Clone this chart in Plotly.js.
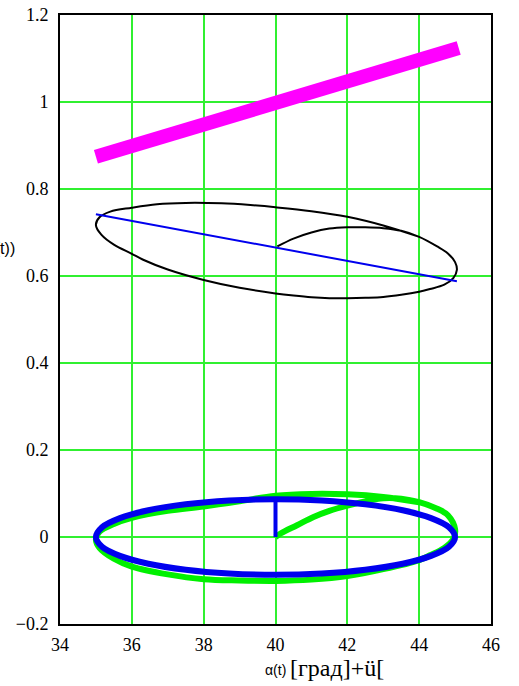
<!DOCTYPE html>
<html>
<head>
<meta charset="utf-8">
<script src="https://cdn.plot.ly/plotly-3.0.1.min.js"></script>
<style>html,body{margin:0;padding:0;background:#fff;}#chart{width:519px;height:686px;}</style>
</head>
<body>
<div id="chart"></div>
<script>
// Magenta straight band
const magentaX = [35, 45.1];
const magentaY = [0.874, 1.124];

// Black trajectory: spiral arc from centre, then the closed loop
const blackX = [40.05, 40.5, 41.0, 41.5, 42.0, 42.5, 43.0, 43.5, 44.0, 44.5, 44.8, 45.0, 45.05, 44.95, 44.7, 44.3, 44.0, 43.5, 43.0, 42.5, 42.0, 41.5, 41.0, 40.5, 40.0, 39.0, 38.0, 37.0, 36.3, 36.0, 35.5, 35.15, 35.0, 35.1, 35.4, 36.0, 36.7, 37.5, 38.5, 39.3, 40.0, 41.0, 42.0, 43.0, 44.0];
const blackY = [0.668, 0.686, 0.700, 0.709, 0.712, 0.712, 0.710, 0.704, 0.690, 0.668, 0.652, 0.632, 0.614, 0.595, 0.580, 0.570, 0.564, 0.557, 0.552, 0.550, 0.549, 0.549, 0.551, 0.555, 0.560, 0.573, 0.591, 0.615, 0.638, 0.651, 0.672, 0.695, 0.717, 0.735, 0.748, 0.757, 0.765, 0.768, 0.767, 0.763, 0.758, 0.749, 0.736, 0.716, 0.690];

// Thin blue straight line through the black loop
const blueLineX = [35, 45.05];
const blueLineY = [0.742, 0.588];

// Green trajectory near y = 0
const greenX = [40.0, 40.14, 40.6, 41.06, 41.5, 42.0, 42.5, 43.0, 43.5, 44.0, 44.5, 44.8, 45.0, 44.95, 44.7, 44.3, 44.0, 43.0, 42.0, 41.0, 40.0, 39.0, 38.0, 37.0, 36.0, 35.5, 35.1, 35.0, 35.1, 35.5, 36.0, 37.0, 38.0, 39.0, 40.0, 41.0, 42.0, 43.0, 44.0];
const greenY = [0.0, 0.008, 0.027, 0.046, 0.060, 0.072, 0.082, 0.089, 0.088, 0.080, 0.065, 0.050, 0.018, -0.005, -0.025, -0.042, -0.053, -0.074, -0.090, -0.098, -0.101, -0.100, -0.097, -0.086, -0.068, -0.050, -0.025, -0.005, 0.012, 0.030, 0.044, 0.060, 0.070, 0.082, 0.095, 0.099, 0.098, 0.092, 0.080];

// Blue spoke and blue loop near y = 0
const blueSpokeX = [40, 40];
const blueSpokeY = [0, 0.087];
const blueLoopX = [40.0, 41.29, 42.5, 43.54, 44.33, 44.83, 45.0, 44.83, 44.33, 43.54, 42.5, 41.29, 40.0, 38.71, 37.5, 36.46, 35.67, 35.17, 35.0, 35.17, 35.67, 36.46, 37.5, 38.71, 40.0];
const blueLoopY = [0.087, 0.084, 0.0753, 0.0615, 0.0435, 0.0225, 0.0, -0.0225, -0.0435, -0.0615, -0.0753, -0.084, -0.087, -0.084, -0.0753, -0.0615, -0.0435, -0.0225, 0.0, 0.0225, 0.0435, 0.0615, 0.0753, 0.084, 0.087];

const xTicks = [34, 36, 38, 40, 42, 44, 46];
const yTicks = [-0.2, 0, 0.2, 0.4, 0.6, 0.8, 1, 1.2];
const yTickText = ['\u22120.2', '0', '0.2', '0.4', '0.6', '0.8', '1', '1.2'];

const SERIF = 'Liberation Serif, Times New Roman, serif';
const SANS = 'Liberation Sans, Arial, sans-serif';
const GRID = '#30f030';

const traces = [
  {x: greenX, y: greenY, mode: 'lines', line: {color: '#00f000', width: 6, shape: 'spline', smoothing: 1}, hoverinfo: 'skip'},
  {x: blueLoopX, y: blueLoopY, mode: 'lines', line: {color: '#0000ee', width: 6, shape: 'spline', smoothing: 1}, hoverinfo: 'skip'},
  {x: blueSpokeX, y: blueSpokeY, mode: 'lines', line: {color: '#0000ee', width: 4}, hoverinfo: 'skip'},
  {x: blackX, y: blackY, mode: 'lines', line: {color: '#000000', width: 2, shape: 'spline', smoothing: 1}, hoverinfo: 'skip'},
  {x: blueLineX, y: blueLineY, mode: 'lines', line: {color: '#0000ee', width: 2}, hoverinfo: 'skip'},
  {x: magentaX, y: magentaY, mode: 'lines', line: {color: '#ff00ff', width: 14}, hoverinfo: 'skip'}
];

const layout = {
  width: 519, height: 686,
  margin: {l: 60, r: 28, t: 15, b: 62},
  paper_bgcolor: '#fff', plot_bgcolor: '#fff',
  showlegend: false,
  font: {family: SERIF, size: 18, color: '#000'},
  xaxis: {
    range: [34, 46], tickvals: xTicks, ticktext: xTicks.map(String),
    showline: true, linecolor: '#000', linewidth: 2, mirror: true,
    showgrid: true, gridcolor: GRID, gridwidth: 2, zeroline: false, ticks: '',
    tickfont: {family: SERIF, size: 18, color: '#000'}, ticklabelstandoff: 3
  },
  yaxis: {
    range: [-0.2, 1.2], tickvals: yTicks, ticktext: yTickText,
    showline: true, linecolor: '#000', linewidth: 2, mirror: true,
    showgrid: true, gridcolor: GRID, gridwidth: 2, zeroline: false, ticks: '',
    tickfont: {family: SERIF, size: 18, color: '#000'}, ticklabelstandoff: 6
  },
  annotations: [
    {xref: 'paper', yref: 'paper', x: 0.471, y: -0.076, xanchor: 'left', yanchor: 'middle', showarrow: false,
     text: '\u03b1(t)', font: {family: SANS, size: 14, color: '#000'}},
    {xref: 'paper', yref: 'paper', x: 0.529, y: -0.072, xanchor: 'left', yanchor: 'middle', showarrow: false,
     text: '[\u0433\u0440\u0430\u0434]+\u00fc[', font: {family: SERIF, size: 24, color: '#000'}},
    {xref: 'paper', yref: 'paper', x: -0.1, y: 0.617, xanchor: 'right', yanchor: 'middle', showarrow: false,
     text: '\u03b2(\u03b1(t))', font: {family: SANS, size: 16, color: '#000'}}
  ]
};

Plotly.newPlot('chart', traces, layout, {staticPlot: true, displayModeBar: false});
</script>
</body>
</html>
